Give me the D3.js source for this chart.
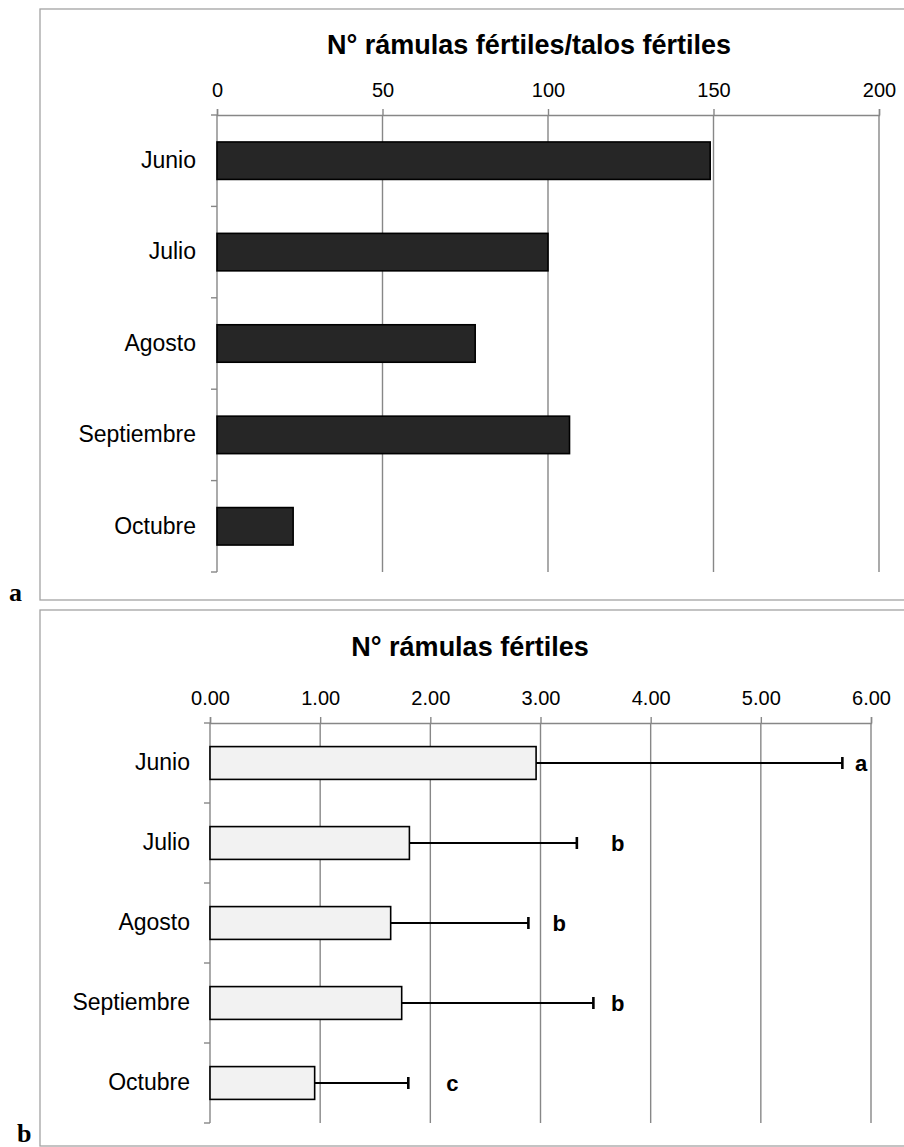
<!DOCTYPE html>
<html>
<head>
<meta charset="utf-8">
<script src="https://cdn.jsdelivr.net/npm/d3@7"></script>
<style>
  html, body { margin: 0; padding: 0; background: #fff; }
  svg { display: block; }
</style>
</head>
<body>
<svg id="chart" width="904" height="1147"></svg>
<script>
// Months sampled
const months = ["Junio", "Julio", "Agosto", "Septiembre", "Octubre"];

// Panel a: fertile ramuli per fertile thallus
const ratioValues = [149, 100, 78, 106.5, 23];
const ratioTicks = [0, 50, 100, 150, 200];

// Panel b: fertile ramuli (mean and upper deviation)
const countValues = [2.96, 1.81, 1.64, 1.74, 0.95];
const countErrors = [2.78, 1.52, 1.25, 1.74, 0.85];
const countTicks = [0, 1, 2, 3, 4, 5, 6];
const groupLetters = ["a", "b", "b", "b", "c"];
const letterAt = [5.91, 3.70, 3.17, 3.70, 2.20];

const svg = d3.select("#chart");
const SANS = "'Liberation Sans', Arial, sans-serif";
const SERIF = "'Liberation Serif', 'Times New Roman', serif";
const GRID = "#878787";

function panel(opts) {
  const g = svg.append("g");

  // chart frame
  g.append("rect")
    .attr("x", opts.frame.x).attr("y", opts.frame.y)
    .attr("width", opts.frame.w).attr("height", opts.frame.h)
    .attr("fill", "#fff").attr("stroke", "#a3a3a3").attr("stroke-width", 1.3);

  g.append("text")
    .attr("x", opts.titleX).attr("y", opts.titleY)
    .attr("text-anchor", "middle")
    .style("font-family", SANS).style("font-size", "27px").style("font-weight", "bold")
    .attr("fill", "#000")
    .text(opts.title);

  const x = d3.scaleLinear().domain(opts.domain).range([opts.left, opts.right]);
  const y = d3.scaleBand().domain(months).range([opts.top, opts.bottom])
    .paddingInner(0.59).paddingOuter(0.295);

  // vertical gridlines
  g.append("g").selectAll("line").data(opts.ticks.slice(1)).join("line")
    .attr("x1", d => x(d)).attr("x2", d => x(d))
    .attr("y1", opts.top).attr("y2", opts.bottom)
    .attr("stroke", GRID).attr("stroke-width", 1.4);

  // value axis along the top
  const ax = g.append("g").attr("transform", `translate(0,${opts.top})`)
    .call(d3.axisTop(x).tickValues(opts.ticks).tickFormat(opts.fmt)
      .tickSize(6).tickPadding(12));
  ax.select(".domain").attr("stroke", GRID).attr("stroke-width", 1.4);
  ax.selectAll(".tick line").attr("stroke", GRID).attr("stroke-width", 1.4);
  ax.selectAll("text")
    .style("font-family", SANS).style("font-size", "20px").attr("fill", "#000");

  // category axis on the left
  const cy = g.append("g").attr("transform", `translate(${opts.left},0)`)
    .call(d3.axisLeft(y).tickSize(0).tickPadding(opts.left - opts.labelEnd));
  cy.select(".domain").remove();
  cy.selectAll("text")
    .style("font-family", SANS).style("font-size", "23px").attr("fill", "#000");

  g.append("line")
    .attr("x1", opts.left).attr("x2", opts.left)
    .attr("y1", opts.top).attr("y2", opts.bottom)
    .attr("stroke", GRID).attr("stroke-width", 1.4);
  const edges = months.map(m => y(m) - y.step() * y.paddingInner() / 2).concat([opts.bottom]);
  g.append("g").selectAll("line").data(edges).join("line")
    .attr("x1", opts.left - 6).attr("x2", opts.left)
    .attr("y1", d => d).attr("y2", d => d)
    .attr("stroke", GRID).attr("stroke-width", 1.4);

  return { g, x, y };
}

// ---- panel a ----
const pa = panel({
  frame: { x: 40, y: 9, w: 900, h: 591 },
  title: "N° rámulas fértiles/talos fértiles", titleX: 529, titleY: 54,
  domain: [0, 200], ticks: ratioTicks, fmt: d3.format("d"),
  left: 217, right: 879, top: 115, bottom: 572, labelEnd: 196
});
pa.g.append("g").selectAll("rect").data(months).join("rect")
  .attr("x", pa.x(0))
  .attr("y", m => pa.y(m))
  .attr("width", (m, i) => pa.x(ratioValues[i]) - pa.x(0))
  .attr("height", pa.y.bandwidth())
  .attr("fill", "#262626").attr("stroke", "#000").attr("stroke-width", 1.6);

// ---- panel b ----
const pb = panel({
  frame: { x: 40, y: 610, w: 900, h: 536 },
  title: "N° rámulas fértiles", titleX: 470, titleY: 656,
  domain: [0, 6], ticks: countTicks, fmt: d3.format(".2f"),
  left: 210, right: 871, top: 723, bottom: 1123, labelEnd: 190
});
pb.g.append("g").selectAll("rect").data(months).join("rect")
  .attr("x", pb.x(0))
  .attr("y", m => pb.y(m))
  .attr("width", (m, i) => pb.x(countValues[i]) - pb.x(0))
  .attr("height", pb.y.bandwidth())
  .attr("fill", "#f2f2f2").attr("stroke", "#000").attr("stroke-width", 1.6);

// upper error bars
const eb = pb.g.append("g").selectAll("g").data(months).join("g");
eb.append("line")
  .attr("x1", (m, i) => pb.x(countValues[i]))
  .attr("x2", (m, i) => pb.x(countValues[i] + countErrors[i]))
  .attr("y1", m => pb.y(m) + pb.y.bandwidth() / 2)
  .attr("y2", m => pb.y(m) + pb.y.bandwidth() / 2)
  .attr("stroke", "#000").attr("stroke-width", 2.2);
eb.append("line")
  .attr("x1", (m, i) => pb.x(countValues[i] + countErrors[i]))
  .attr("x2", (m, i) => pb.x(countValues[i] + countErrors[i]))
  .attr("y1", m => pb.y(m) + pb.y.bandwidth() / 2 - 6)
  .attr("y2", m => pb.y(m) + pb.y.bandwidth() / 2 + 6)
  .attr("stroke", "#000").attr("stroke-width", 2.6);

// significance letters
pb.g.append("g").selectAll("text").data(months).join("text")
  .attr("x", (m, i) => pb.x(letterAt[i]))
  .attr("y", m => pb.y(m) + pb.y.bandwidth() / 2)
  .attr("dy", "0.36em")
  .attr("text-anchor", "middle")
  .style("font-family", SANS).style("font-size", "22px").style("font-weight", "bold")
  .attr("fill", "#000")
  .text((m, i) => groupLetters[i]);

// panel letters
svg.append("text").attr("x", 9).attr("y", 601)
  .style("font-family", SERIF).style("font-size", "26px").style("font-weight", "bold")
  .text("a");
svg.append("text").attr("x", 17).attr("y", 1142)
  .style("font-family", SERIF).style("font-size", "26px").style("font-weight", "bold")
  .text("b");
</script>
</body>
</html>
